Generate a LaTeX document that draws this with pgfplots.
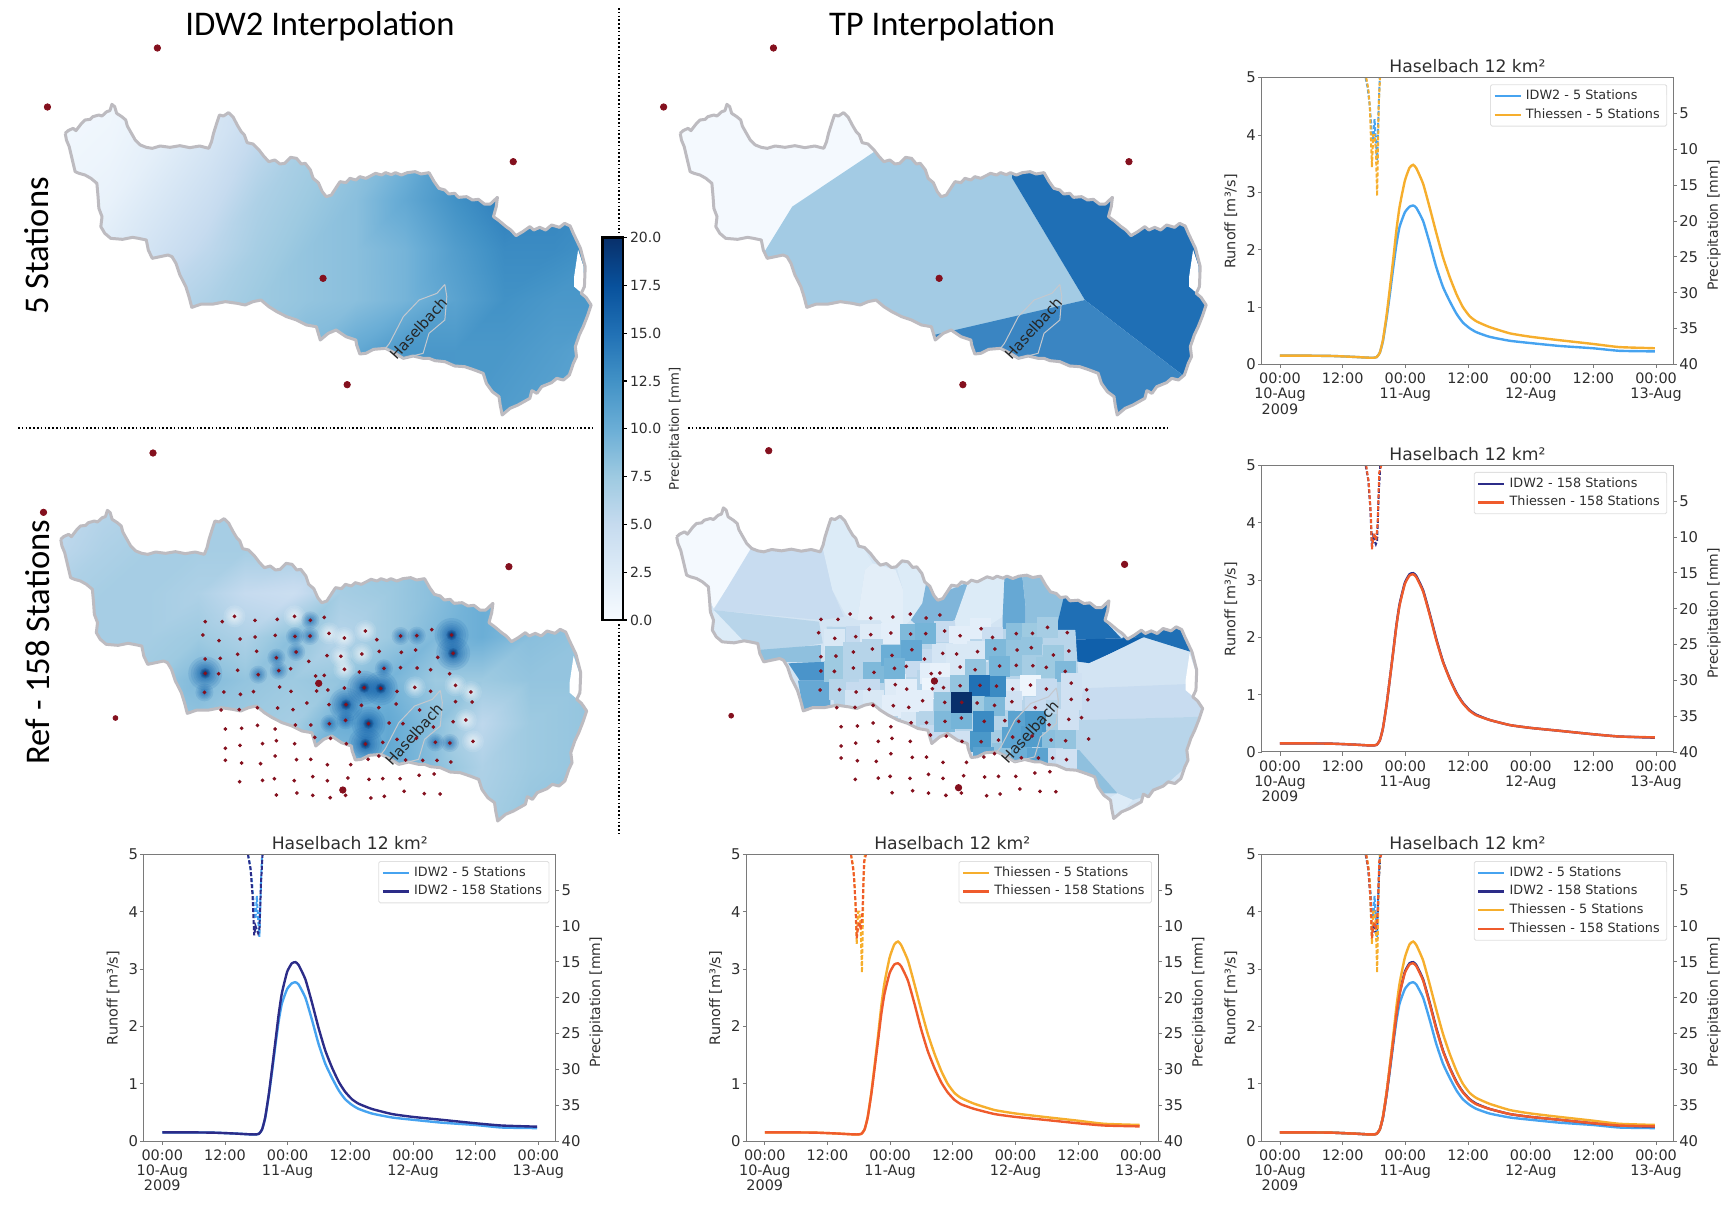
\documentclass[border=0pt]{standalone}
\usepackage{pgfplots}
\usepackage{pgfplotstable}
\usepackage{fontspec}
\setmainfont{DejaVu Sans}
\newfontfamily\calfont{Carlito}
\pgfplotsset{compat=1.18}
\definecolor{v0}{HTML}{F4F9FE}\definecolor{v1}{HTML}{E3EEF8}\definecolor{v1b}{HTML}{DCEBF7}
\definecolor{v2}{HTML}{D3E4F3}\definecolor{v3}{HTML}{C8DCF0}\definecolor{v4}{HTML}{B8D5EA}
\definecolor{v5}{HTML}{8FC0DE}\definecolor{v6}{HTML}{7FB5DA}\definecolor{v7}{HTML}{66A8D4}
\definecolor{v8}{HTML}{4A94CA}\definecolor{v9}{HTML}{1F6FB5}\definecolor{v10}{HTML}{1060AB}
\definecolor{tpmid}{HTML}{A3CBE4}\definecolor{tpsouth}{HTML}{3A85C2}
\definecolor{border}{HTML}{BDBBC0}\definecolor{hasel}{HTML}{C4C8CE}\definecolor{stn}{HTML}{84101E}
\definecolor{cI5}{HTML}{46A3F0}\definecolor{cI158}{HTML}{2C2C88}\definecolor{cT5}{HTML}{F6AE2D}\definecolor{cT158}{HTML}{EF5B2C}
\definecolor{spine}{HTML}{7A7A7A}\definecolor{txt}{HTML}{2E2E2E}\definecolor{core}{HTML}{08306B}
\pgfplotsset{
 colormap={blues}{rgb255=(247,251,255) rgb255=(222,235,247) rgb255=(198,219,239) rgb255=(158,202,225) rgb255=(107,174,214) rgb255=(66,146,198) rgb255=(33,113,181) rgb255=(8,81,156) rgb255=(8,48,107)},
 mapbase/.style={hide axis, scale only axis, clip=false, anchor=center, y dir=reverse, xmin=0, xmax=1568, ymin=0, point meta min=0, point meta max=20, enlargelimits=false},
 mapA/.style={mapbase, width=310pt, height=215pt, ymax=1290},
 mapB/.style={mapbase, width=300pt, height=215pt, ymax=1290},
 mapC/.style={mapbase, width=310pt, height=200pt, ymax=1200},
 mapD/.style={mapbase, width=300pt, height=200pt, ymax=1200},
 qaxis/.style={scale only axis, anchor=center, width=205.8pt, height=143.3pt, xmin=-3.5, xmax=75.3, ymin=0, ymax=5,
   xtick={0,12,24,36,48,60,72}, xticklabels={{00:00\\10-Aug\\2009},12:00,{00:00\\11-Aug},12:00,{00:00\\12-Aug},12:00,{00:00\\13-Aug}},
   ytick={0,1,2,3,4,5}, yticklabels={0,1,2,3,4,5}, xtick pos=bottom, ytick pos=left, tick align=outside,
   major tick length=1.8pt, every tick/.style={spine, line width=0.4pt}, axis line style={spine, line width=0.5pt},
   xticklabel style={align=center, font=\fontsize{7.2}{7.7}\selectfont, text=txt, inner sep=1pt, yshift=-1.2pt},
   yticklabel style={font=\fontsize{7.4}{8}\selectfont, text=txt, inner sep=1pt},
   title={Haselbach 12 km²}, title style={font=\fontsize{8.6}{10}\selectfont, text=txt, yshift=-7pt},
   ylabel={Runoff [m³/s]}, ylabel style={font=\fontsize{7.2}{8}\selectfont, text=txt, xshift=-0.2pt},
   legend cell align=left,
   legend style={font=\fontsize{6.4}{7}\selectfont, text=txt, at={(0.985,0.977)}, anchor=north east, draw=black!12, rounded corners=0.8pt, inner xsep=1.5pt, inner ysep=1pt, row sep=0pt, nodes={inner ysep=1.5pt, inner xsep=2pt}},
   legend image code/.code={\draw[##1] (0pt,0pt) -- (13pt,0pt);},
 },
 paxis/.style={scale only axis, anchor=center, width=205.8pt, height=143.3pt, xmin=-3.5, xmax=75.3, ymin=0, ymax=40, y dir=reverse,
   axis x line=none, axis y line*=right, ytick={5,10,...,40}, yticklabels={5,10,15,20,25,30,35,40}, tick align=outside,
   major tick length=1.8pt, every tick/.style={spine, line width=0.4pt}, axis line style={spine, line width=0.5pt,-},
   yticklabel style={font=\fontsize{7.4}{8}\selectfont, text=txt, inner sep=1pt},
   ylabel={Precipitation [mm]}, ylabel style={font=\fontsize{7}{8}\selectfont, text=txt, xshift=-2.3pt},
 },
 li5/.style={cI5, line width=1.2pt, smooth, tension=0.3},
 li158/.style={cI158, line width=1.2pt, smooth, tension=0.3},
 lt5/.style={cT5, line width=1.2pt, smooth, tension=0.3},
 lt158/.style={cT158, line width=1.2pt, smooth, tension=0.3},
 pd/.style={dash pattern=on 2pt off 1pt, line width=1pt},
}
\pgfplotstableread{
t i5 i158 t5 t158
0 .15 .15 .15 .15
6 .15 .15 .15 .15
10 .145 .145 .145 .145
14 .13 .13 .13 .13
17 .115 .115 .115 .115
18 .115 .115 .115 .115
18.5 .125 .125 .125 .125
19.1 .2 .2 .2 .2
19.7 .4 .41 .42 .41
20.4 .8 .82 .85 .82
21 1.2 1.25 1.3 1.25
21.7 1.7 1.77 1.85 1.76
22.3 2.1 2.22 2.35 2.21
22.9 2.4 2.58 2.75 2.56
23.9 2.65 2.95 3.2 2.93
24.8 2.75 3.1 3.43 3.08
25.5 2.77 3.12 3.48 3.1
26.1 2.73 3.07 3.42 3.05
27.4 2.5 2.82 3.15 2.8
28.7 2.1 2.4 2.72 2.38
29.9 1.7 1.98 2.3 1.96
31.2 1.35 1.58 1.87 1.57
32.5 1.1 1.28 1.52 1.27
33.8 .88 1.03 1.22 1.02
35 .73 .86 1.0 .85
36.3 .63 .73 .84 .72
37.6 .56 .65 .75 .64
40.1 .48 .56 .65 .56
44 .41 .47 .54 .47
48 .37 .42 .48 .42
53.5 .32 .37 .42 .37
59.9 .28 .31 .355 .31
65 .235 .27 .30 .27
71.75 .225 .25 .28 .255
}\Q
\pgfplotstableread{
t p
16.4 0
16.8 1.5
17.2 4
17.6 8
17.85 9
18.1 5.8
18.35 9
18.6 11.5
18.85 5
19.1 0
}\PrA
\pgfplotstableread{
t p
16.5 0
16.9 1.5
17.2 4
17.6 12.5
17.85 8
18.1 8
18.35 10
18.6 16.5
18.9 4
19.15 0
}\PrB
\pgfplotstableread{
t p
16.4 0
16.9 2
17.3 6
17.6 11.3
17.85 10
18.1 10.5
18.35 11
18.6 10.5
18.9 4
19.2 0
}\PrC
\pgfplotstableread{
t p
16.5 0
17 2.5
17.4 7
17.6 11.7
17.9 10
18.1 9.5
18.4 10.5
18.7 8
19 1
19.4 0
}\PrD
\pgfplotstableread[row sep=\\]{
x y\\
519 575\\562 575\\593 559\\645 571\\701 568\\745 559\\785 571\\820 562\\
513 615\\554 632\\607 627\\645 621\\696 616\\746 619\\784 618\\832 610\\871 624\\924 603\\953 629\\1013 618\\1054 617\\1092 599\\1142 615\\
519 687\\557 685\\601 673\\649 664\\699 683\\749 666\\781 694\\827 677\\862 679\\915 672\\959 664\\1015 667\\1051 660\\1107 682\\1146 670\\
519 730\\553 731\\601 721\\653 734\\705 722\\735 716\\798 738\\820 736\\871 718\\909 726\\971 715\\1013 713\\1055 714\\1089 719\\1137 731\\
517 787\\566 786\\608 793\\641 785\\707 771\\736 784\\801 783\\829 780\\871 774\\921 773\\963 775\\1004 784\\1049 772\\1089 784\\1152 766\\1191 786\\
559 840\\605 839\\651 833\\702 834\\741 839\\776 819\\832 824\\875 824\\914 826\\958 833\\1002 822\\1061 840\\1152 815\\1194 816\\
570 897\\611 895\\651 886\\696 897\\747 885\\786 885\\833 881\\874 871\\932 881\\984 879\\1019 881\\1096 891\\1146 875\\1178 870\\
570 955\\607 946\\664 941\\699 932\\745 941\\796 922\\836 925\\876 941\\924 942\\968 937\\1004 928\\1053 925\\1101 937\\1138 939\\1196 934\\
570 991\\611 999\\659 1001\\696 978\\750 989\\786 988\\828 1004\\887 1004\\931 988\\958 978\\1026 990\\1069 991\\1105 991\\1140 996\\
606 1055\\664 1051\\694 1046\\744 1052\\791 1040\\828 1052\\880 1044\\933 1048\\968 1046\\1012 1046\\1060 1036\\1098 1032\\
699 1095\\751 1089\\791 1096\\835 1103\\874 1096\\938 1104\\972 1099\\1022 1084\\1073 1091\\1113 1092\\
}\SmallSt
\pgfplotstableread[row sep=\\]{
x y\\
875 824\\1142 615\\1146 670\\519 730\\932 881\\921 773\\963 775\\924 942\\
}\HotStrong
\pgfplotstableread[row sep=\\]{
x y\\
749 666\\699 683\\785 571\\784 618\\653 734\\705 722\\517 787\\971 715\\746 619\\833 881\\874 871\\1013 618\\1054 617\\1101 937\\1138 939\\
}\HotMedium
\pgfplotstableread[row sep=\\]{
x y\\
924 603\\1049 772\\871 624\\832 610\\745 559\\593 559\\1196 934\\1178 870\\871 718\\1152 766\\1191 786\\862 679\\915 672\\
}\PaleSpots
\newcommand\cell[2]{\addplot[fill=#1,draw=none] coordinates {#2};}
% catchment mask, outline, tributary
\newcommand\catch[3]{%
\begin{axis}[mapA, at={(#1pt,#2pt)}]
\addplot[fill=white,draw=none,even odd rule] coordinates {(120,280)(1512,280)(1512,1265)(120,1265)(120,280)
(165,400)(172,392)(185,385)(192,392)(205,372)(215,360)(228,358)(235,350)(250,345)(258,348)(270,335)(278,332)(283,313)(290,320)(295,340)(308,350)(318,360)(322,378)(330,395)(342,420)(355,435)(370,442)(385,445)(405,438)(430,442)(455,437)(480,443)(505,438)(528,445)(535,425)(540,400)(548,370)(555,345)(565,348)(578,338)(590,352)(600,375)(610,395)(618,405)(625,428)(640,432)(655,450)(668,470)(680,485)(695,480)(708,492)(720,490)(735,472)(750,475)(762,492)(772,490)(785,510)(792,535)(805,548)(815,575)(825,590)(838,585)(845,572)(860,545)(875,548)(885,535)(900,540)(910,530)(925,535)(950,520)(965,525)(975,518)(990,524)(1000,518)(1015,525)(1030,518)(1050,515)(1065,522)(1085,518)(1098,545)(1110,565)(1125,570)(1135,582)(1150,580)(1160,592)(1180,590)(1195,600)(1210,598)(1225,612)(1240,612)(1258,592)(1255,620)(1248,650)(1262,662)(1280,680)(1292,690)(1305,707)(1322,695)(1340,680)(1350,690)(1365,682)(1380,690)(1395,675)(1415,682)(1428,670)(1442,678)(1450,700)(1468,745)(1480,800)(1478,860)(1470,880)(1482,892)(1495,915)(1485,950)(1475,980)(1465,1005)(1455,1040)(1458,1070)(1450,1090)(1440,1125)(1425,1140)(1408,1135)(1395,1148)(1370,1160)(1358,1180)(1345,1172)(1340,1195)(1325,1205)(1310,1215)(1290,1225)(1270,1245)(1265,1215)(1262,1190)(1245,1175)(1230,1150)(1222,1120)(1200,1110)(1175,1100)(1150,1098)(1125,1085)(1100,1082)(1085,1075)(1070,1075)(1045,1068)(1020,1075)(1000,1060)(975,1045)(945,1048)(925,1060)(910,1062)(902,1035)(900,1020)(875,1010)(850,990)(830,1000)(810,1020)(805,1000)(800,980)(775,975)(750,960)(725,950)(700,935)(680,920)(660,900)(640,905)(620,915)(600,910)(570,905)(540,912)(510,912)(485,922)(478,890)(470,860)(455,825)(445,790)(435,770)(425,765)(405,770)(385,775)(375,750)(370,720)(350,715)(335,712)(310,718)(280,715)(265,700)(255,680)(258,650)(250,625)(248,590)(245,550)(230,535)(215,525)(200,520)(190,515)(182,475)(175,440)(168,420)(165,400)};
#3
\addplot[fill=white,draw=none] coordinates {(1462,750)(1452,830)(1452,860)(1470,878)(1477,860)(1476,800)(1462,750)};
\addplot[border,line width=1.5pt,line join=round] coordinates {
(165,400)(172,392)(185,385)(192,392)(205,372)(215,360)(228,358)(235,350)(250,345)(258,348)(270,335)(278,332)(283,313)(290,320)(295,340)(308,350)(318,360)(322,378)(330,395)(342,420)(355,435)(370,442)(385,445)(405,438)(430,442)(455,437)(480,443)(505,438)(528,445)(535,425)(540,400)(548,370)(555,345)(565,348)(578,338)(590,352)(600,375)(610,395)(618,405)(625,428)(640,432)(655,450)(668,470)(680,485)(695,480)(708,492)(720,490)(735,472)(750,475)(762,492)(772,490)(785,510)(792,535)(805,548)(815,575)(825,590)(838,585)(845,572)(860,545)(875,548)(885,535)(900,540)(910,530)(925,535)(950,520)(965,525)(975,518)(990,524)(1000,518)(1015,525)(1030,518)(1050,515)(1065,522)(1085,518)(1098,545)(1110,565)(1125,570)(1135,582)(1150,580)(1160,592)(1180,590)(1195,600)(1210,598)(1225,612)(1240,612)(1258,592)(1255,620)(1248,650)(1262,662)(1280,680)(1292,690)(1305,707)(1322,695)(1340,680)(1350,690)(1365,682)(1380,690)(1395,675)(1415,682)(1428,670)(1442,678)(1450,700)(1468,745)(1480,800)(1478,860)(1470,880)(1482,892)(1495,915)(1485,950)(1475,980)(1465,1005)(1455,1040)(1458,1070)(1450,1090)(1440,1125)(1425,1140)(1408,1135)(1395,1148)(1370,1160)(1358,1180)(1345,1172)(1340,1195)(1325,1205)(1310,1215)(1290,1225)(1270,1245)(1265,1215)(1262,1190)(1245,1175)(1230,1150)(1222,1120)(1200,1110)(1175,1100)(1150,1098)(1125,1085)(1100,1082)(1085,1075)(1070,1075)(1045,1068)(1020,1075)(1000,1060)(975,1045)(945,1048)(925,1060)(910,1062)(902,1035)(900,1020)(875,1010)(850,990)(830,1000)(810,1020)(805,1000)(800,980)(775,975)(750,960)(725,950)(700,935)(680,920)(660,900)(640,905)(620,915)(600,910)(570,905)(540,912)(510,912)(485,922)(478,890)(470,860)(455,825)(445,790)(435,770)(425,765)(405,770)(385,775)(375,750)(370,720)(350,715)(335,712)(310,718)(280,715)(265,700)(255,680)(258,650)(250,625)(248,590)(245,550)(230,535)(215,525)(200,520)(190,515)(182,475)(175,440)(168,420)(165,400)};
\addplot[hasel,line width=0.5pt] coordinates {(1125,853)(1105,880)(1060,900)(1020,950)(985,1030)(975,1045)(1020,1075)(1070,1060)(1085,1000)(1125,960)(1130,890)(1125,853)};
\node[rotate=48,font=\fontsize{7.4}{10}\selectfont,text=black!85,inner sep=0pt] at (axis cs:1058,985) {Haselbach};
\end{axis}}
\begin{document}
\begin{tikzpicture}
\path[use as bounding box] (0,0) rectangle (862pt,603.5pt);
% ---------- Map A: IDW2, 5 stations
\begin{axis}[mapA, at={(155pt,496pt)}]
\addplot[surf, shader=interp, mesh/cols=12, point meta=explicit] table[x=x,y=y,meta=c,row sep=\\]{
x y c\\
150 300 0.5\\275 300 0.7\\400 300 1.5\\525 300 3\\650 300 4.5\\775 300 6\\900 300 7.5\\1025 300 9\\1150 300 11\\1275 300 13\\1400 300 13\\1510 300 13\\
150 450 0.7\\275 450 1.0\\400 450 2\\525 450 3.5\\650 450 5.5\\775 450 7\\900 450 8\\1025 450 9.5\\1150 450 12\\1275 450 14\\1400 450 14\\1510 450 13.5\\
150 600 1\\275 600 1.5\\400 600 3\\525 600 4.5\\650 600 6.5\\775 600 7.5\\900 600 8.5\\1025 600 10.5\\1150 600 12.5\\1275 600 14\\1400 600 13.5\\1510 600 13\\
150 750 1.5\\275 750 2.5\\400 750 4\\525 750 5.5\\650 750 7\\775 750 8\\900 750 8.5\\1025 750 9.5\\1150 750 11.5\\1275 750 13\\1400 750 13\\1510 750 12.5\\
150 900 3\\275 900 4\\400 900 5.5\\525 900 6.5\\650 900 7.5\\775 900 8\\900 900 8.5\\1025 900 9.5\\1150 900 11\\1275 900 12.5\\1400 900 12\\1510 900 12\\
150 1050 4\\275 1050 5\\400 1050 6.5\\525 1050 7.5\\650 1050 8\\775 1050 9\\900 1050 10.5\\1025 1050 12\\1150 1050 12\\1275 1050 12\\1400 1050 11.5\\1510 1050 11\\
150 1262 5\\275 1262 6\\400 1262 7\\525 1262 8\\650 1262 9\\775 1262 10\\900 1262 11\\1025 1262 12.5\\1150 1262 12\\1275 1262 11.5\\1400 1262 11\\1510 1262 11\\
};
\end{axis}
\catch{155}{496}{}
\begin{axis}[mapA, at={(155pt,496pt)}]
\addplot[only marks, mark=*, mark size=1.6pt, color=stn] coordinates {(398,144)(120,321)(1298,485)(817,835)(878,1154)};
\end{axis}
% ---------- Map B: Thiessen, 5 stations
\begin{axis}[mapB, at={(460pt,496pt)}]
\cell{v0}{(125,290)(1545,290)(1545,1260)(125,1260)}
\cell{tpmid}{(665,430)(665,455)(450,620)(375,760)(380,900)(820,1010)(1215,900)(1025,535)(1020,480)(800,400)}
\cell{v9}{(1025,535)(1215,900)(1470,1125)(1545,1125)(1545,450)(1020,450)}
\cell{tpsouth}{(820,1005)(1215,900)(1470,1125)(1470,1260)(800,1260)}
\end{axis}
\catch{462.5}{496}{}
\begin{axis}[mapB, at={(460pt,496pt)}]
\addplot[only marks, mark=*, mark size=1.6pt, color=stn] coordinates {(401,144)(114,321)(1330,485)(834,835)(896,1154)};
\end{axis}
% ---------- Map C: IDW2, 158 stations
\begin{axis}[mapC, at={(155pt,288.5pt)}]
\addplot[surf, shader=interp, mesh/cols=12, point meta=explicit] table[x=x,y=y,meta=c,row sep=\\]{
x y c\\
140 230 5.5\\260 230 6\\380 230 6.5\\500 230 7\\620 230 7\\740 230 7\\860 230 7.5\\980 230 8\\1100 230 8.5\\1220 230 9\\1340 230 9\\1495 230 9\\
140 360 5.5\\260 360 6.5\\380 360 7\\500 360 7\\620 360 7\\740 360 7\\860 360 7.5\\980 360 8\\1100 360 8.5\\1220 360 9.5\\1340 360 9.5\\1495 360 9.5\\
140 490 6.5\\260 490 7\\380 490 7\\500 490 6.5\\620 490 5\\740 490 4.5\\860 490 7\\980 490 7.5\\1100 490 8.5\\1220 490 10\\1340 490 9\\1495 490 8.5\\
140 620 7\\260 620 7\\380 620 7\\500 620 7.5\\620 620 6.5\\740 620 8.5\\860 620 6\\980 620 7.5\\1100 620 9\\1220 620 10\\1340 620 8.5\\1495 620 8\\
140 750 7\\260 750 7\\380 750 7.5\\500 750 9\\620 750 8\\740 750 7.5\\860 750 8\\980 750 9.5\\1100 750 7.5\\1220 750 7.5\\1340 750 8\\1495 750 8\\
140 880 7\\260 880 7.5\\380 880 7.5\\500 880 8\\620 880 7.5\\740 880 7\\860 880 10\\980 880 10.5\\1100 880 8.5\\1220 880 5.5\\1340 880 7.5\\1495 880 8\\
140 1010 7.5\\260 1010 7.5\\380 1010 7.5\\500 1010 7.5\\620 1010 7.5\\740 1010 8\\860 1010 8.5\\980 1010 10.5\\1100 1010 8.5\\1220 1010 6.5\\1340 1010 7.5\\1495 1010 8\\
140 1180 7.5\\260 1180 7.5\\380 1180 7.5\\500 1180 7.5\\620 1180 7.5\\740 1180 8\\860 1180 9.5\\980 1180 10.5\\1100 1180 7.5\\1220 1180 7\\1340 1180 8\\1495 1180 8\\
};
\pgfplotsinvokeforeach{5.5,4.5,3.8,3.2,2.7,2.2,1.8,1.4,1.0}{
\addplot[only marks, color=white, mark=*, mark size=#1pt, mark options={draw opacity=0, line width=0pt, fill=white, fill opacity=0.10}] table[x=x,y=y] {\PaleSpots};}
\pgfplotsinvokeforeach{8.5,7.2,6,5,4.2,3.5,2.9,2.4,1.9,1.5,1.1}{
\addplot[only marks, color=v10, mark=*, mark size=#1pt, mark options={draw opacity=0, line width=0pt, fill=v10, fill opacity=0.13}] table[x=x,y=y] {\HotStrong};}
\pgfplotsinvokeforeach{2.6,2,1.5,1.1}{
\addplot[only marks, color=core, mark=*, mark size=#1pt, mark options={draw opacity=0, line width=0pt, fill=core, fill opacity=0.22}] table[x=x,y=y] {\HotStrong};}
\pgfplotsinvokeforeach{4.5,3.6,2.9,2.3,1.8,1.3}{
\addplot[only marks, color=v10, mark=*, mark size=#1pt, mark options={draw opacity=0, line width=0pt, fill=v10, fill opacity=0.12}] table[x=x,y=y] {\HotMedium};}
\end{axis}
\catch{152.75}{293}{}
\begin{axis}[mapC, at={(155pt,288.5pt)}]
\addplot[only marks, mark=*, mark size=0.72pt, color=stn] table[x=x,y=y] {\SmallSt};
\addplot[only marks, mark=*, mark size=1.6pt, color=stn] coordinates {(387,69)(110,247)(1287,410)(806,760)(867,1080)};
\addplot[only marks, mark=*, mark size=1.2pt, color=stn] coordinates {(292,864)};
\end{axis}
% ---------- Map D: Thiessen, 158 stations
\begin{axis}[mapD, at={(460pt,288.5pt)}]
\cell{v2}{(170,210)(1535,210)(1535,1180)(170,1180)}
\cell{v0}{(140,320)(270,220)(345,360)(245,535)(230,500)(140,420)}
\cell{v3}{(345,350)(530,350)(555,480)(585,560)(525,570)(245,540)}
\cell{v4}{(245,540)(520,575)(530,640)(420,660)(370,660)(320,630)(280,640)}
\cell{v1b}{(245,540)(320,630)(270,640)(235,600)}
\cell{v1b}{(530,250)(585,250)(660,400)(640,420)(620,570)(590,555)(555,480)(530,355)}
\cell{v1}{(660,400)(720,420)(740,480)(740,590)(700,600)(680,570)(620,570)(640,420)}
\cell{v1b}{(720,400)(790,400)(800,460)(790,520)(760,570)(740,590)(740,480)}
\cell{v6}{(800,460)(860,480)(915,455)(875,570)(830,590)(825,600)(790,600)(760,570)(790,520)}
\cell{v1b}{(915,440)(1005,435)(1000,560)(960,590)(880,610)(875,570)}
\cell{v7}{(1005,435)(1050,425)(1060,530)(1060,590)(1000,610)(1000,560)}
\cell{v5}{(1050,425)(1100,425)(1140,490)(1160,510)(1135,620)(1060,590)(1060,530)}
\cell{v9}{(1160,500)(1290,500)(1265,570)(1310,625)(1140,630)(1135,620)}
\cell{v10}{(1140,630)(1310,625)(1370,620)(1230,700)(1165,690)(1150,660)}
\cell{v9}{(1310,625)(1400,580)(1490,580)(1490,665)(1370,622)}
\cell{v4}{(540,590)(1190,600)(1210,960)(1160,1010)(800,920)(560,830)}
\cell{v2}{(1370,625)(1485,665)(1530,760)(1210,775)(1225,700)}
\cell{v3}{(1210,775)(1530,760)(1530,860)(1200,870)}
\cell{v4}{(1200,870)(1530,860)(1500,990)(1400,1090)(1340,1110)(1300,1090)(1200,960)}
\cell{v5}{(1200,960)(1300,1090)(1260,1090)(1200,1030)(1160,1010)(1170,960)}
\cell{v1b}{(1300,1090)(1340,1110)(1290,1175)(1270,1110)}
\cell{v5}{(360,660)(525,645)(525,700)(430,695)(375,700)}
\cell{v8}{(440,700)(545,695)(545,752)(470,752)}
\cell{v7}{(465,752)(550,752)(550,825)(480,845)}
\addplot[scatter, only marks, scatter src=explicit, mark=square*, mark size=5pt, point meta=explicit,
 scatter/use mapped color={draw=mapped color,fill=mapped color}] table[x=x,y=y,meta=c,row sep=\\]{
x y c\\
561 627 3\\617 620 5\\655 614 2.5\\708 609 2\\849 604 5\\887 618 2\\943 596 2\\973 623 4.5\\1035 611 8.5\\1078 611 7.5\\1116 592 7\\
564 678 7.5\\610 666 6\\659 657 6\\796 687 5\\843 670 3.5\\880 672 3\\934 665 3\\1037 660 8\\1074 653 8\\1133 675 7.5\\
560 724 7.5\\610 714 6\\663 727 9\\748 709 5\\812 731 2\\836 729 1.5\\889 711 3\\1035 706 8\\1079 707 7\\1114 712 7.5\\1163 724 9\\
574 779 6\\617 786 5\\651 778 5\\719 764 2.5\\749 777 2\\816 776 1\\845 773 4\\1026 777 3\\1072 765 1\\1114 777 5\\1179 759 4\\
614 812 3.5\\661 812 3\\713 827 2\\753 832 2\\791 812 2\\1024 815 4\\1085 833 5\\1179 808 4\\
761 878 3\\800 878 6\\1005 872 6\\1122 884 7\\1173 868 4\\
810 915 5\\851 918 5\\893 934 4\\988 930 7\\1126 930 8.5\\1165 932 8\\
1130 984 5\\1166 989 4\\1000 970 8\\
759 612 9\\798 611 9.5\\710 676 10\\762 660 10.5\\980 657 9\\717 715 9.5\\928 719 8\\992 708 9.5\\
889 767 8\\848 817 8\\934 819 7.5\\979 826 9\\849 874 9\\892 864 9.5\\
1040 874 11\\1085 875 12\\942 935 12\\1025 921 11\\1075 918 11.5\\950 981 11\\1048 983 10\\1092 984 11\\
950 874 13\\982 768 13\\938 766 15\\893 817 20\\
};
\end{axis}
\catch{460.75}{294.25}{}
\begin{axis}[mapC, at={(462.85pt,289.65pt)}]
\addplot[only marks, mark=*, mark size=0.72pt, color=stn] table[x=x,y=y] {\SmallSt};
\addplot[only marks, mark=*, mark size=1.6pt, color=stn] coordinates {(387,69)(1287,410)(806,760)(867,1080)};
\addplot[only marks, mark=*, mark size=1.2pt, color=stn] coordinates {(292,864)};
\end{axis}
% ---------- Colour bar
\begin{axis}[scale only axis, anchor=center, at={(306.4pt,389.1pt)}, width=10.25pt, height=191.25pt, xmin=0, xmax=1, ymin=0, ymax=20,
 xtick=\empty, ytick={0,2.5,5,7.5,10,12.5,15,17.5,20}, yticklabels={0.0,2.5,5.0,7.5,10.0,12.5,15.0,17.5,20.0}, ytick pos=right, tick align=outside,
 major tick length=1.8pt, every tick/.style={black, line width=0.6pt}, axis line style={black, line width=1.1pt}, axis on top,
 yticklabel style={font=\fontsize{7}{8}\selectfont, text=txt, inner sep=1.5pt},
 ylabel={Precipitation [mm]}, ylabel style={font=\fontsize{6.6}{8}\selectfont, text=txt, at={(axis description cs:3.54,0.5)}, anchor=center, rotate=0},
 point meta min=0, point meta max=20]
\addplot[surf, shader=interp, mesh/cols=2, point meta=y] table[row sep=\\]{
x y\\ 0 0\\ 1 0\\ 0 20\\ 1 20\\
};
\end{axis}
% ---------- Runoff charts
\begin{axis}[paxis, at={(733.75pt,493pt)}]
\addplot[cI5,pd] table[x=t,y=p] {\PrA};
\addplot[cT5,pd] table[x=t,y=p] {\PrB};
\end{axis}
\begin{axis}[qaxis, at={(733.75pt,493pt)}]
\addplot[li5] table[x=t,y=i5] {\Q}; \addlegendentry{IDW2 - 5 Stations}
\addplot[lt5] table[x=t,y=t5] {\Q}; \addlegendentry{Thiessen - 5 Stations}
\node[draw=black!12,inner sep=0pt,minimum size=4.5pt,anchor=north east] at (rel axis cs:0.984,0.974) {};
\end{axis}
\begin{axis}[paxis, at={(733.75pt,299.15pt)}]
\addplot[cI158,pd] table[x=t,y=p] {\PrC};
\addplot[cT158,pd] table[x=t,y=p] {\PrD};
\end{axis}
\begin{axis}[qaxis, at={(733.75pt,299.15pt)}]
\addplot[li158] table[x=t,y=i158] {\Q}; \addlegendentry{IDW2 - 158 Stations}
\addplot[lt158] table[x=t,y=t158] {\Q}; \addlegendentry{Thiessen - 158 Stations}
\node[draw=black!12,inner sep=0pt,minimum size=4.5pt,anchor=north east] at (rel axis cs:0.984,0.974) {};
\end{axis}
\begin{axis}[paxis, at={(174.9pt,104.65pt)}]
\addplot[cI5,pd] table[x=t,y=p] {\PrA};
\addplot[cI158,pd] table[x=t,y=p] {\PrC};
\end{axis}
\begin{axis}[qaxis, at={(174.9pt,104.65pt)}]
\addplot[li5] table[x=t,y=i5] {\Q}; \addlegendentry{IDW2 - 5 Stations}
\addplot[li158] table[x=t,y=i158] {\Q}; \addlegendentry{IDW2 - 158 Stations}
\node[draw=black!12,inner sep=0pt,minimum size=4.5pt,anchor=north east] at (rel axis cs:0.984,0.974) {};
\end{axis}
\begin{axis}[paxis, at={(476.15pt,104.65pt)}]
\addplot[cT5,pd] table[x=t,y=p] {\PrB};
\addplot[cT158,pd] table[x=t,y=p] {\PrD};
\end{axis}
\begin{axis}[qaxis, at={(476.15pt,104.65pt)}]
\addplot[lt5] table[x=t,y=t5] {\Q}; \addlegendentry{Thiessen - 5 Stations}
\addplot[lt158] table[x=t,y=t158] {\Q}; \addlegendentry{Thiessen - 158 Stations}
\node[draw=black!12,inner sep=0pt,minimum size=4.5pt,anchor=north east] at (rel axis cs:0.984,0.974) {};
\end{axis}
\begin{axis}[paxis, at={(733.75pt,104.65pt)}]
\addplot[cI5,pd] table[x=t,y=p] {\PrA};
\addplot[cI158,pd] table[x=t,y=p] {\PrC};
\addplot[cT5,pd] table[x=t,y=p] {\PrB};
\addplot[cT158,pd] table[x=t,y=p] {\PrD};
\end{axis}
\begin{axis}[qaxis, at={(733.75pt,104.65pt)}]
\addplot[li5] table[x=t,y=i5] {\Q}; \addlegendentry{IDW2 - 5 Stations}
\addplot[li158] table[x=t,y=i158] {\Q}; \addlegendentry{IDW2 - 158 Stations}
\addplot[lt5] table[x=t,y=t5] {\Q}; \addlegendentry{Thiessen - 5 Stations}
\addplot[lt158] table[x=t,y=t158] {\Q}; \addlegendentry{Thiessen - 158 Stations}
\node[draw=black!12,inner sep=0pt,minimum size=4.5pt,anchor=north east] at (rel axis cs:0.984,0.974) {};
\end{axis}
% ---------- Headings and dotted dividers, in full-picture pixels
\begin{axis}[hide axis, scale only axis, clip=false, anchor=center, at={(431pt,301.75pt)}, width=862pt, height=603.5pt, xmin=0, xmax=1724, ymin=0, ymax=1207, y dir=reverse]
\addplot[black, line width=0.8pt, dash pattern=on 0.8pt off 1.1pt] coordinates {(619,8)(619,233)};
\addplot[black, line width=0.8pt, dash pattern=on 0.8pt off 1.1pt] coordinates {(619,624)(619,834)};
\addplot[black, line width=0.8pt, dash pattern=on 0.8pt off 1.1pt] coordinates {(18,428)(594,428)};
\addplot[black, line width=0.8pt, dash pattern=on 0.8pt off 1.1pt] coordinates {(688,428)(1168,428)};
\node[font=\calfont\fontsize{17.3}{20}\selectfont] at (axis cs:320,26) {IDW2 Interpolation};
\node[font=\calfont\fontsize{17.3}{20}\selectfont] at (axis cs:942,26) {TP Interpolation};
\node[font=\calfont\fontsize{17.3}{20}\selectfont,rotate=90] at (axis cs:37,246) {5 Stations};
\node[font=\calfont\fontsize{17.3}{20}\selectfont,rotate=90] at (axis cs:38,642) {Ref - 158 Stations};
\end{axis}
\end{tikzpicture}
\end{document}
